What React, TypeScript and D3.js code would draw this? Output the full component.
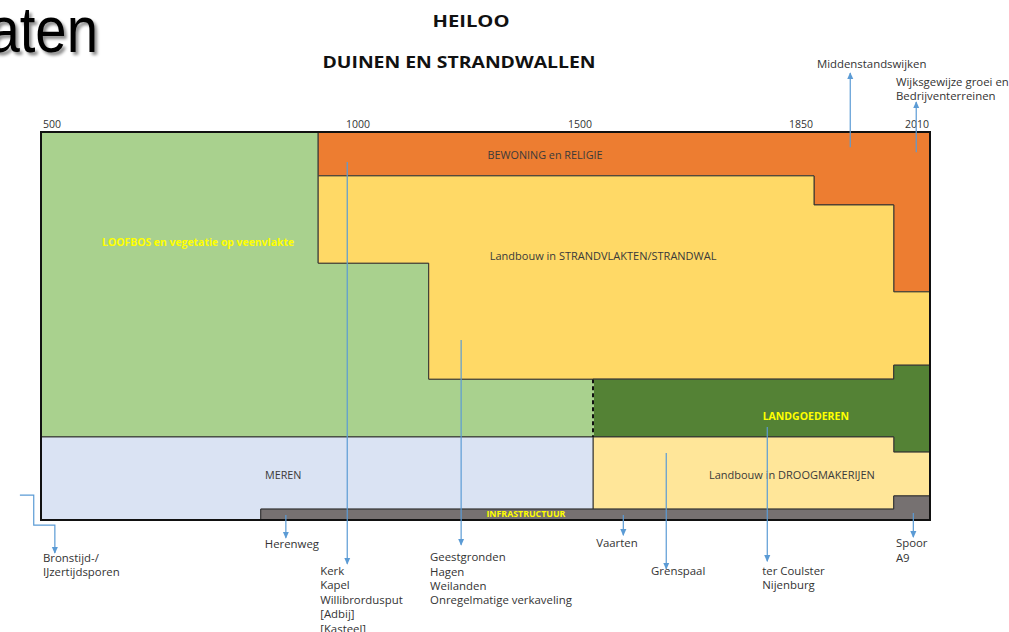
import { useMemo } from "react";
import * as d3 from "d3";

// time axis (non-linear, one segment per period)
const YEAR_TICKS = [500, 1000, 1500, 1850, 2010];

type Pt = [number, number]; // [year, depth in % of the panel height]

// land-use zones, drawn back to front
const ZONE_KEYS = ["loofbos", "bewoning", "strandwal", "landgoed", "droogmakerij", "meren", "infra"];

const ZONE_POINTS: Record<string, Pt[]> = {
  loofbos: [[500, 0], [920, 0], [920, 33.8], [1130, 33.8], [1130, 63.7], [1500, 63.7], [1500, 78.6], [500, 78.6]],
  bewoning: [[920, 0], [2010, 0], [2010, 41.2], [1960, 41.2], [1960, 18.8], [1850, 18.8], [1850, 11.3], [920, 11.3]],
  strandwal: [[920, 11.3], [1850, 11.3], [1850, 18.8], [1960, 18.8], [1960, 41.2], [2010, 41.2], [2010, 60.1], [1960, 60.1], [1960, 63.7], [1130, 63.7], [1130, 33.8], [920, 33.8]],
  landgoed: [[1500, 63.7], [1960, 63.7], [1960, 60.1], [2010, 60.1], [2010, 82.5], [1960, 82.5], [1960, 78.6], [1500, 78.6]],
  droogmakerij: [[1500, 78.6], [1960, 78.6], [1960, 82.5], [2010, 82.5], [2010, 93.8], [1960, 93.8], [1960, 97.2], [1500, 97.2]],
  meren: [[500, 78.6], [1500, 78.6], [1500, 97.2], [833, 97.2], [833, 100], [500, 100]],
  infra: [[833, 97.2], [1960, 97.2], [1960, 93.8], [2010, 93.8], [2010, 100], [833, 100]],
};

const ZONE_LABELS: Record<string, string> = {
  loofbos: "LOOFBOS en vegetatie op veenvlakte",
  bewoning: "BEWONING en RELIGIE",
  strandwal: "Landbouw in STRANDVLAKTEN/STRANDWAL",
  landgoed: "LANDGOEDEREN",
  droogmakerij: "Landbouw in DROOGMAKERIJEN",
  meren: "MEREN",
  infra: "INFRASTRUCTUUR",
};

const ZONE_LABEL_AT: Record<string, Pt> = {
  loofbos: [738, 28.4],
  bewoning: [1392, 5.9],
  strandwal: [1516, 32.0],
  landgoed: [1837, 73.2],
  droogmakerij: [1815, 88.4],
  meren: [867, 88.4],
  infra: [1349, 98.5],
};

// dashed boundary between loofbos and landgoederen
const DASHED_EDGE: Pt[] = [[1500, 63.7], [1500, 78.6]];

// annotations: arrow path (year, depth) and text lines
const NOTE_PATHS: Pt[][] = [
  [[468, 93.6], [489, 93.6], [489, 101.3], [521, 101.3], [521, 108.5]],
  [[871, 98.7], [871, 104.6]],
  [[964, 7.7], [964, 111.3]],
  [[1203, 53.6], [1203, 106.4]],
  [[1548, 98.7], [1548, 103.9]],
  [[1616, 82.7], [1616, 112.6]],
  [[1776, 76.0], [1776, 110.6]],
  [[1987, 98.2], [1987, 104.4]],
  [[1900, 3.9], [1900, -15.2]],
  [[1991, 5.2], [1991, -7.7]],
];
const NOTE_TEXTS: string[][] = [
  ["Bronstijd-/", "IJzertijdsporen"],
  ["Herenweg"],
  ["Kerk", "Kapel", "Willibrordusput", "[Adbij]", "[Kasteel]"],
  ["Geestgronden", "Hagen", "Weilanden", "Onregelmatige verkaveling"],
  ["Vaarten"],
  ["Grenspaal"],
  ["ter Coulster", "Nijenburg"],
  ["Spoor", "A9"],
  ["Middenstandswijken"],
  ["Wijksgewijze groei en", "Bedrijventerreinen"],
];
const NOTE_TEXT_AT: Pt[] = [
  [503, 110.8],
  [839, 107.2],
  [923, 114.2],
  [1133, 110.6],
  [1505, 107.0],
  [1592, 114.2],
  [1768, 114.2],
  [1963, 107.0],
  [1854, -16.5],
  [1963, -11.9],
];

const COLORS: Record<string, string> = {
  loofbos: "#A9D18E",
  bewoning: "#ED7D31",
  strandwal: "#FFD966",
  landgoed: "#548235",
  droogmakerij: "#FFE699",
  meren: "#DAE3F3",
  infra: "#767171",
};
const LABEL_STYLE: Record<string, { fill: string; weight: number; size: number }> = {
  loofbos: { fill: "#FFFF00", weight: 700, size: 10.4 },
  bewoning: { fill: "#3a3a3a", weight: 400, size: 10.8 },
  strandwal: { fill: "#3a3a3a", weight: 400, size: 11 },
  landgoed: { fill: "#FFFF00", weight: 700, size: 10.5 },
  droogmakerij: { fill: "#3a3a3a", weight: 400, size: 11 },
  meren: { fill: "#3a3a3a", weight: 400, size: 10.8 },
  infra: { fill: "#FFFF00", weight: 700, size: 8.8 },
};

const W = 1009;
const H = 632;
const FONT = "'Open Sans', 'Noto Sans', sans-serif";
const ARROW = "#5B9BD5";

export default function App() {
  const x = useMemo(() => d3.scaleLinear().domain(YEAR_TICKS).range([41, 371, 593, 814, 930]), []);
  const y = useMemo(() => d3.scaleLinear().domain([0, 100]).range([132, 520]), []);
  const line = d3.line<Pt>().x((d) => x(d[0])).y((d) => y(d[1]));

  return (
    <svg width={W} height={H} style={{ position: "absolute", left: 0, top: 0, background: "#fff" }}>
      <defs>
        <filter id="shadow" x="-20%" y="-20%" width="140%" height="140%">
          <feDropShadow dx="3" dy="3" stdDeviation="1.6" floodColor="#000" floodOpacity="0.45" />
        </filter>
        <marker id="arrow" viewBox="0 0 8 8" refX="7" refY="4" markerWidth="7" markerHeight="7" markerUnits="userSpaceOnUse" orient="auto">
          <path d="M0,0.5 L8,4 L0,7.5 Z" fill={ARROW} />
        </marker>
      </defs>

      <text transform="translate(98,52) scale(0.88,1)" textAnchor="end" fontFamily="'Liberation Sans', Arial, sans-serif" fontSize={64} fill="#000" filter="url(#shadow)">aten</text>

      <text x={471} y={27} textAnchor="middle" fontFamily={FONT} fontWeight={700} fontSize={16} textLength={77} lengthAdjust="spacingAndGlyphs" fill="#111">HEILOO</text>
      <text x={459} y={68} textAnchor="middle" fontFamily={FONT} fontWeight={700} fontSize={16} textLength={273} lengthAdjust="spacingAndGlyphs" fill="#111">DUINEN EN STRANDWALLEN</text>

      {YEAR_TICKS.map((t, i) => (
        <text key={t} x={i === 0 ? x(t) + 2 : x(t) - 1} y={128} textAnchor={i === 0 ? "start" : "end"} fontFamily={FONT} fontSize={10.5} fill="#333">{t}</text>
      ))}

      {ZONE_KEYS.map((k) => (
        <path key={k} d={line(ZONE_POINTS[k]) + "Z"} fill={COLORS[k]} stroke="#333" strokeWidth={1} strokeLinejoin="miter" />
      ))}

      <path d={line(DASHED_EDGE) || ""} stroke={COLORS.loofbos} strokeWidth={2} />
      <path d={line(DASHED_EDGE) || ""} stroke="#111" strokeWidth={2} strokeDasharray="4,3" />

      <rect x={x(500)} y={y(0)} width={x(2010) - x(500)} height={y(100) - y(0)} fill="none" stroke="#111" strokeWidth={2} />

      {ZONE_KEYS.map((k) => (
        <text key={k} x={x(ZONE_LABEL_AT[k][0])} y={y(ZONE_LABEL_AT[k][1])} dy="0.35em" textAnchor="middle" fontFamily={FONT}
          fontSize={LABEL_STYLE[k].size} fontWeight={LABEL_STYLE[k].weight} fill={LABEL_STYLE[k].fill}>
          {ZONE_LABELS[k]}
        </text>
      ))}

      {NOTE_PATHS.map((p, i) => (
        <path key={i} d={line(p) || ""} fill="none" stroke={ARROW} strokeWidth={1.2} markerEnd="url(#arrow)" />
      ))}

      {NOTE_TEXTS.map((lines, i) => (
        <text key={i} x={x(NOTE_TEXT_AT[i][0])} y={y(NOTE_TEXT_AT[i][1])} fontFamily={FONT} fontSize={11.4} fill="#333">
          {lines.map((s, j) => (
            <tspan key={j} x={x(NOTE_TEXT_AT[i][0])} dy={j === 0 ? 0 : 14.4}>{s}</tspan>
          ))}
        </text>
      ))}
    </svg>
  );
}
